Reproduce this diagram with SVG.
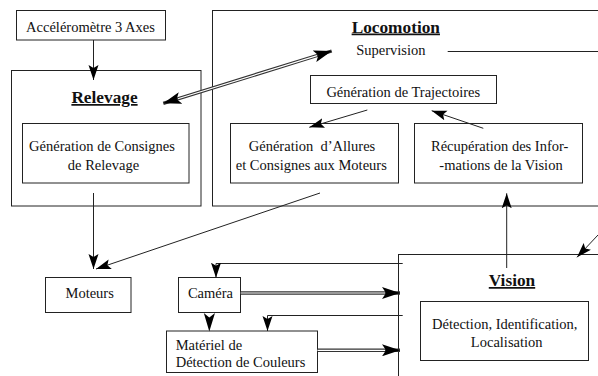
<svg xmlns="http://www.w3.org/2000/svg" width="598" height="376" viewBox="0 0 598 376">
<style>
rect{fill:none;stroke:#222;stroke-width:1}
text{font-family:"Liberation Serif","Times New Roman",serif;font-size:14.5px;fill:#111;white-space:pre}
.t{font-weight:bold;font-size:17.3px;text-decoration:underline}
.c{text-anchor:middle}
.ln{fill:none;stroke:#222;stroke-width:1}
.dbo{fill:none;stroke:#333;stroke-width:3.4}
.dbi{fill:none;stroke:#fff;stroke-width:1.2}
.ah{fill:#000}
</style>
<defs>
<marker id="a" markerUnits="userSpaceOnUse" markerWidth="16" markerHeight="12" refX="15" refY="5" orient="auto" viewBox="0 0 16 10">
<path d="M0,0 L15,5 L0,10 L3,5 Z" fill="#000"/>
</marker>
<marker id="ab" markerUnits="userSpaceOnUse" markerWidth="19" markerHeight="12" refX="18" refY="6" orient="auto" viewBox="0 0 19 12">
<path d="M0,0 L18,6 L0,12 L4,6 Z" fill="#000"/>
</marker>
<marker id="abs" markerUnits="userSpaceOnUse" markerWidth="19" markerHeight="12" refX="18" refY="6" orient="auto-start-reverse" viewBox="0 0 19 12">
<path d="M0,0 L18,6 L0,12 L4,6 Z" fill="#000"/>
</marker>
</defs>

<g id="accelerometre">
<rect x="16.5" y="10.5" width="149" height="29.5"/>
<text class="c" x="90.5" y="32">Accéléromètre 3 Axes</text>
</g>

<g id="relevage">
<rect x="11.5" y="70.5" width="189.5" height="135.5"/>
<text class="t c" x="104.5" y="103">Relevage</text>
</g>
<g id="consignes-relevage">
<rect x="22.5" y="123.5" width="166.5" height="59.5"/>
<text class="c" x="102" y="150.5">Génération de Consignes</text>
<text class="c" x="103.5" y="169.5">de Relevage</text>
</g>

<g id="locomotion">
<rect x="212.5" y="10.5" width="420" height="195.5"/>
<text class="t c" x="395.8" y="32.5">Locomotion</text>
<text class="c" x="390.8" y="55">Supervision</text>
</g>
<g id="trajectoires">
<rect x="310.5" y="75.5" width="186" height="28"/>
<text class="c" x="403.3" y="97">Génération de Trajectoires</text>
</g>
<g id="allures">
<rect x="230.5" y="123.5" width="168" height="59.5"/>
<text class="c" x="312" y="150.5">Génération  d’Allures</text>
<text class="c" x="311.3" y="169.5">et Consignes aux Moteurs</text>
</g>
<g id="recuperation">
<rect x="414.5" y="123.5" width="168" height="59.5"/>
<text class="c" x="499.7" y="150.5">Récupération des Infor-</text>
<text class="c" x="501" y="169.5">-mations de la Vision</text>
</g>

<g id="moteurs">
<rect x="45.5" y="277.5" width="85.5" height="35"/>
<text class="c" x="89.7" y="298.3">Moteurs</text>
</g>
<g id="camera">
<rect x="178.5" y="277.5" width="62" height="35"/>
<text class="c" x="210.5" y="298.3">Caméra</text>
</g>
<g id="materiel">
<rect x="166.5" y="331" width="151" height="41.5"/>
<text x="175.7" y="350">Matériel de</text>
<text x="175.7" y="366.7">Détection de Couleurs</text>
</g>

<g id="vision">
<rect x="398.5" y="254.5" width="300" height="200"/>
<text class="t c" x="512" y="286">Vision</text>
</g>
<g id="detection">
<rect x="420.5" y="301.5" width="168" height="59"/>
<text class="c" x="504.7" y="329">Détection, Identification,</text>
<text class="c" x="506.7" y="346.5">Localisation</text>
</g>

<g id="connectors">
<path class="ln" d="M93.5,40 L93.5,80" marker-end="url(#a)"/>
<path class="ln" d="M93.5,193 L93.5,269" marker-end="url(#a)"/>
<path class="ln" d="M320,193 L96,269" marker-end="url(#a)"/>
<path class="ln" d="M367.3,110 L309.3,127.3" marker-end="url(#a)"/>
<path class="ln" d="M483.3,128.3 L431.7,110.7" marker-end="url(#a)"/>
<path class="ln" d="M447.7,51.5 L598,51.5"/>
<path class="ln" d="M506.7,268 L506.7,193.3" marker-end="url(#a)"/>
<path class="ln" d="M598,235 L577,257.3" marker-end="url(#a)"/>
<path class="ln" d="M402.7,263.5 L216,263.5 L216,277.7" marker-end="url(#a)"/>
<path class="ln" d="M402.7,315.5 L267.5,315.5 L267.5,331" marker-end="url(#a)"/>

<path class="dbo" d="M163.3,103.3 L331.7,51" marker-start="url(#abs)" marker-end="url(#abs)"/>
<path class="dbi" d="M178,98.7 L317,55.6"/>

<path class="dbo" d="M240.7,293 L400,293" marker-end="url(#ab)"/>
<path class="dbi" d="M240.7,293 L385,293"/>
<path class="dbo" d="M317.5,350.3 L400,350.3" marker-end="url(#ab)"/>
<path class="dbi" d="M317.5,350.3 L385,350.3"/>

<path class="ah" d="M203.8,313 L209.3,331.5 L215,313 L209.3,317.5 Z"/>
</g>
</svg>
